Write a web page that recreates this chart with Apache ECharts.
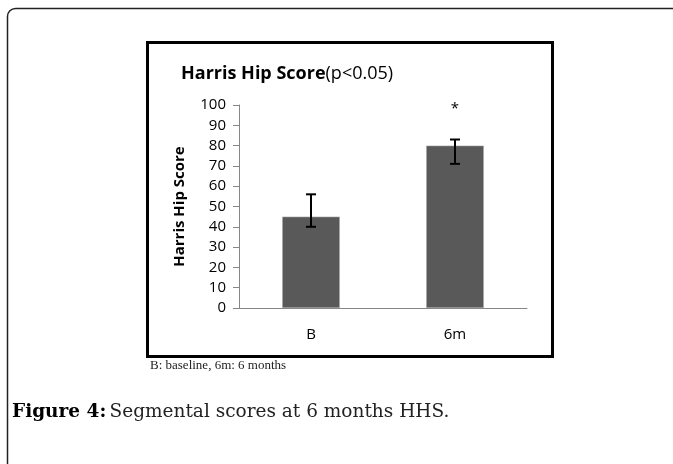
<!DOCTYPE html>
<html>
<head>
<meta charset="utf-8">
<script src="https://cdn.jsdelivr.net/npm/echarts@6/dist/echarts.min.js"></script>
<style>
html,body{margin:0;padding:0;background:#fff;}
#c{width:673px;height:464px;}
</style>
</head>
<body>
<div id="c"></div>
<script>
const categories = ['B', '6m'];
const means = [45, 80];
const errLow = [40, 71];
const errHigh = [56, 83];
const sigLabels = ['', '*'];
const sigPos = [null, 98];
const yTicks = [0, 10, 20, 30, 40, 50, 60, 70, 80, 90, 100];

const chart = echarts.init(document.getElementById('c'), null, {renderer: 'canvas'});
chart.setOption({
  animation: false,
  backgroundColor: '#fff',
  grid: {left: 239, right: 146, top: 105, bottom: 156},
  title: {
    left: 176, top: 60,
    text: '{b|Harris Hip Score}{n|(p<0.05)}',
    textStyle: {
      rich: {
        b: {fontFamily: 'Open Sans', fontWeight: 'bold', fontSize: 18, color: '#000'},
        n: {fontFamily: 'Open Sans', fontWeight: 'normal', fontSize: 18, color: '#000'}
      }
    }
  },
  xAxis: {
    type: 'category',
    data: categories,
    axisLine: {lineStyle: {color: '#868686', width: 1}},
    axisTick: {show: false},
    axisLabel: {color: '#000', fontFamily: 'Open Sans', fontSize: 15, margin: 19}
  },
  yAxis: {
    type: 'value',
    min: yTicks[0], max: yTicks[yTicks.length - 1], interval: 10,
    name: 'Harris Hip Score',
    nameLocation: 'middle',
    nameGap: 52,
    nameTextStyle: {fontFamily: 'Open Sans', fontWeight: 'bold', fontSize: 15, color: '#000'},
    axisLine: {show: true, lineStyle: {color: '#868686', width: 1}},
    axisTick: {show: true, length: 6, lineStyle: {color: '#868686'}},
    splitLine: {show: false},
    axisLabel: {color: '#000', fontFamily: 'Open Sans', fontSize: 15, margin: 13}
  },
  series: [
    {
      type: 'bar',
      data: means,
      barWidth: '40%',
      itemStyle: {color: '#595959', borderColor: '#a6a6a6', borderWidth: 0.6}
    },
    {
      type: 'custom',
      data: categories.map((c, i) => [i, errLow[i], errHigh[i]]),
      renderItem: function (params, api) {
        const lo = api.coord([api.value(0), api.value(1)]);
        const hi = api.coord([api.value(0), api.value(2)]);
        const hw = 5;
        const st = {stroke: '#000', lineWidth: 2};
        return {type: 'group', children: [
          {type: 'line', shape: {x1: lo[0], y1: lo[1], x2: hi[0], y2: hi[1]}, style: st},
          {type: 'line', shape: {x1: lo[0] - hw, y1: lo[1], x2: lo[0] + hw, y2: lo[1]}, style: st},
          {type: 'line', shape: {x1: hi[0] - hw, y1: hi[1], x2: hi[0] + hw, y2: hi[1]}, style: st}
        ]};
      },
      z: 5
    },
    {
      type: 'custom',
      data: categories.map((c, i) => [i, sigPos[i] == null ? 0 : sigPos[i], sigLabels[i]]),
      renderItem: function (params, api) {
        const i = params.dataIndex;
        if (!sigLabels[i]) return null;
        const p = api.coord([i, sigPos[i]]);
        return {type: 'text', style: {x: p[0], y: p[1], text: sigLabels[i], align: 'center', verticalAlign: 'middle', fontSize: 15, fontFamily: 'Open Sans', fill: '#000'}};
      },
      z: 5
    }
  ],
  graphic: [
    {type: 'rect', shape: {x: 7.5, y: 8.5, width: 720, height: 520, r: 8}, style: {fill: 'none', stroke: '#222', lineWidth: 1.5}, silent: true},
    {type: 'rect', shape: {x: 147.5, y: 42.5, width: 405, height: 314}, style: {fill: 'none', stroke: '#000', lineWidth: 3}, silent: true},
    {type: 'text', left: 150, top: 359, style: {text: 'B: baseline, 6m: 6 months', fontFamily: 'Liberation Serif', fontSize: 13, fill: '#222'}},
    {type: 'text', left: 12, top: 403, style: {
      text: '{b|Figure 4:} {n|Segmental scores at 6 months HHS.}',
      rich: {
        b: {fontFamily: 'DejaVu Serif', fontWeight: 'bold', fontSize: 18.5, fill: '#000'},
        n: {fontFamily: 'DejaVu Serif', fontSize: 18.5, fill: '#222'}
      }
    }}
  ]
});
</script>
</body>
</html>
